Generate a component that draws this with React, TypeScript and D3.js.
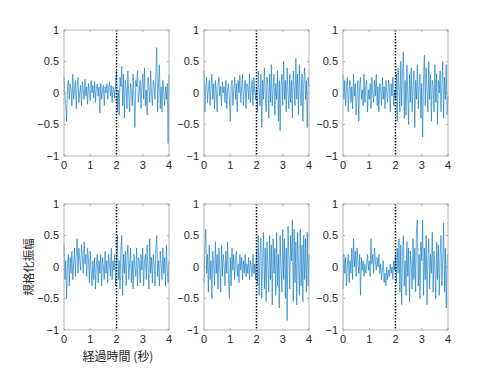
import React from 'react';
import * as d3 from 'd3';

// normalized amplitude, 121 samples over 0..4 s (sample 60 = 2 s)
const panel1 = [
  0.25, -0.05, -0.2, -0.45, 0.1, 0.2, -0.1, 0.15, 0.05, -0.2,
  0.3, -0.1, 0.05, 0.2, -0.25, 0.1, 0.25, -0.15, 0.0, 0.12,
  -0.2, 0.18, 0.05, -0.1, 0.22, -0.05, 0.1, -0.18, 0.15, 0.02,
  -0.12, 0.2, 0.0, 0.12, -0.08, 0.18, -0.15, 0.08, 0.14, -0.05,
  0.1, -0.32, 0.15, -0.1, 0.05, 0.12, -0.2, 0.1, 0.0, 0.15,
  -0.1, 0.08, 0.18, -0.05, 0.12, -0.15, 0.1, 0.05, -0.08, 0.15,
  0.35,
  -0.3, 0.05, -0.35, 0.25, 0.1, 0.42, -0.2, 0.3, -0.4, 0.2,
  0.1, -0.25, 0.35, -0.05, -0.3, 0.15, 0.05, -0.2, 0.3, -0.1,
  -0.55, 0.2, 0.1, 0.35, -0.15, 0.0, 0.2, -0.25, 0.1, 0.3,
  -0.1, 0.4, -0.2, 0.05, -0.35, 0.25, 0.1, -0.15, 0.35, 0.0,
  -0.2, 0.2, 0.1, -0.1, 0.3, 0.72, -0.3, 0.15, 0.45, -0.25,
  0.1, -0.3, 0.2, 0.0, -0.2, 0.1, -0.1, 0.15, -0.8, 0.3,
];

const panel2 = [
  0.35, -0.3, 0.1, 0.25, -0.15, 0.05, 0.2, -0.2, 0.1, 0.3,
  -0.1, 0.15, -0.25, 0.2, 0.05, -0.3, 0.12, 0.25, -0.05, 0.1,
  -0.2, 0.18, 0.0, 0.1, -0.15, 0.2, -0.25, 0.05, 0.15, -0.1,
  -0.45, 0.1, 0.2, -0.2, 0.05, 0.25, -0.1, 0.15, -0.3, 0.2,
  0.0, 0.28, -0.15, 0.1, 0.3, -0.2, 0.05, 0.2, -0.25, 0.15,
  0.1, -0.1, 0.3, -0.15, 0.05, 0.2, -0.2, 0.25, 0.0, -0.1,
  0.1,
  -0.3, 0.35, 0.05, -0.2, 0.3, -0.55, 0.2, -0.1, 0.4, 0.0,
  -0.3, 0.25, 0.1, -0.4, 0.3, -0.15, 0.45, -0.2, 0.05, 0.3,
  -0.35, 0.15, -0.1, 0.35, -0.45, 0.2, -0.6, 0.1, 0.3, -0.2,
  0.5, -0.1, 0.2, -0.3, 0.4, 0.0, -0.25, 0.3, -0.15, 0.2,
  -0.4, 0.35, 0.1, -0.2, 0.55, -0.1, 0.3, -0.35, 0.45, 0.0,
  -0.2, 0.3, -0.45, 0.15, 0.4, -0.1, 0.2, -0.55, 0.25, 0.1,
];

const panel3 = [
  0.3, -0.1, 0.2, -0.2, 0.1, 0.25, -0.3, 0.05, 0.2, -0.15,
  0.1, -0.25, 0.3, -0.05, 0.15, -0.35, 0.0, 0.2, -0.45, 0.1,
  0.25, -0.1, 0.05, -0.2, 0.3, -0.15, 0.1, 0.2, -0.3, 0.05,
  -0.1, 0.15, -0.25, 0.25, 0.0, -0.15, 0.2, -0.05, 0.3, -0.2,
  0.1, -0.3, 0.15, 0.05, -0.2, 0.25, -0.1, 0.1, -0.25, 0.2,
  0.0, -0.15, 0.2, 0.1, -0.3, 0.15, -0.05, 0.25, -0.2, 0.05,
  -0.1,
  0.3, -0.45, 0.4, 0.1, -0.3, 0.5, -0.2, 0.35, 0.65, -0.4,
  0.2, -0.35, 0.45, 0.0, -0.5, 0.3, -0.15, 0.4, -0.3, 0.1,
  0.35, -0.55, 0.2, -0.1, 0.45, -0.25, 0.1, 0.3, -0.4, 0.15,
  -0.7, 0.25, 0.6, -0.2, 0.4, 0.05, -0.3, 0.5, -0.1, 0.3,
  -0.45, 0.2, 0.1, -0.3, 0.45, -0.15, 0.3, -0.5, 0.2, 0.0,
  0.35, -0.3, 0.15, 0.5, -0.4, 0.25, -0.1, 0.45, -0.35, -0.05,
];

const panel4 = [
  0.35, -0.2, 0.1, -0.5, 0.05, 0.2, -0.3, 0.15, -0.1, 0.25,
  -0.2, 0.05, 0.3, -0.15, 0.2, 0.45, -0.1, 0.3, 0.1, -0.05,
  0.35, 0.15, -0.1, 0.4, 0.05, 0.2, -0.15, 0.3, 0.1, -0.25,
  0.25, -0.05, -0.3, 0.1, -0.2, 0.15, -0.35, 0.05, 0.2, -0.25,
  0.1, -0.1, 0.2, -0.3, 0.15, 0.0, -0.2, 0.25, -0.1, 0.1,
  -0.25, 0.2, 0.05, -0.15, 0.3, -0.2, 0.1, -0.05, 0.2, -0.3,
  0.15,
  0.5, -0.2, 0.1, -0.35, 0.3, 0.5, -0.45, 0.2, -0.1, 0.25,
  -0.3, 0.15, 0.35, -0.2, 0.05, 0.3, -0.25, 0.1, -0.35, 0.2,
  0.0, -0.15, 0.3, -0.3, 0.15, 0.1, -0.25, 0.2, -0.05, 0.3,
  -0.3, 0.1, 0.2, -0.2, 0.35, 0.0, -0.35, 0.45, -0.1, 0.15,
  -0.25, 0.2, 0.05, -0.3, 0.3, 0.5, -0.15, 0.1, -0.3, 0.25,
  0.05, -0.2, 0.3, -0.1, 0.15, -0.3, 0.35, -0.05, -0.25, 0.1,
];

const panel5 = [
  -0.25, 0.3, 0.6, -0.1, 0.2, -0.4, 0.35, -0.2, 0.1, -0.5,
  0.25, 0.05, -0.3, 0.4, -0.1, 0.2, -0.35, 0.3, 0.0, -0.4,
  0.35, -0.15, 0.2, 0.05, -0.3, 0.25, -0.1, 0.4, -0.2, -0.5,
  0.15, -0.3, 0.3, -0.05, 0.2, -0.2, 0.1, 0.25, -0.15, 0.05,
  -0.25, 0.2, -0.05, 0.15, -0.2, 0.1, -0.1, 0.2, -0.15, 0.05,
  -0.1, 0.15, -0.2, 0.1, 0.0, -0.15, 0.2, -0.1, 0.05, -0.2,
  0.25,
  -0.3, 0.5, -0.45, 0.2, 0.45, -0.5, 0.1, 0.55, -0.35, 0.3,
  -0.55, 0.4, 0.0, -0.4, 0.5, -0.2, 0.35, -0.6, 0.45, -0.1,
  0.3, -0.45, 0.55, -0.3, 0.2, -0.65, 0.5, 0.0, -0.4, 0.6,
  -0.2, 0.45, -0.5, 0.3, -0.85, 0.65, 0.2, -0.35, 0.5, 0.1,
  0.75, -0.55, 0.6, -0.25, 0.4, -0.6, 0.55, 0.05, -0.45, 0.6,
  -0.3, 0.35, -0.55, 0.5, -0.2, 0.45, -0.4, 0.55, -0.3, 0.2,
];

const panel6 = [
  -0.35, 0.2, -0.1, 0.15, -0.3, 0.05, 0.2, -0.25, 0.1, -0.1,
  0.3, -0.2, 0.45, 0.0, 0.25, -0.15, 0.3, 0.1, -0.1, 0.2,
  -0.45, 0.15, -0.05, 0.1, -0.15, 0.05, -0.1, 0.0, 0.2, -0.05,
  0.1, -0.15, 0.45, 0.05, 0.2, -0.1, 0.3, 0.1, -0.05, 0.15,
  0.0, 0.2, -0.1, 0.05, -0.2, -0.05, 0.1, -0.25, -0.1, -0.3,
  0.0, -0.2, -0.05, -0.15, 0.05, -0.1, 0.0, -0.2, 0.1, -0.05,
  0.2,
  -0.25, 0.3, -0.1, 0.45, -0.4, 0.35, -0.6, 0.2, 0.5, -0.3,
  0.1, -0.45, 0.4, -0.15, 0.3, -0.55, 0.25, 0.05, -0.35, 0.45,
  -0.2, 0.3, -0.4, 0.6, 0.75, -0.3, 0.2, -0.5, 0.4, 0.1,
  0.75, -0.45, 0.3, -0.2, 0.5, -0.6, 0.15, 0.45, -0.35, 0.2,
  -0.1, 0.55, -0.4, 0.25, 0.0, -0.5, 0.4, -0.2, 0.35, -0.45,
  0.2, 0.5, -0.3, 0.1, 0.7, -0.4, 0.3, -0.65, 0.15, 0.2,
];

const panels = [panel1, panel2, panel3, panel4, panel5, panel6];
const xTicks = [0, 1, 2, 3, 4];
const yTicks = [-1, -0.5, 0, 0.5, 1];
const marker = 2; // seconds
const duration = 4;
const yLabel = '規格化振幅';
const xLabel = '経過時間 (秒)';

const W = 496;
const H = 372;
const colLeft = [64, 204, 343];
const rowTop = [30, 204];
const pw = 105;
const ph = 126;
const numFont = '"Liberation Sans", Arial, sans-serif';
const cjkFont = '"Noto Sans CJK JP", sans-serif';

const Panel: React.FC<{ values: number[]; left: number; top: number }> = ({ values, left, top }) => {
  const x = d3.scaleLinear().domain([0, duration]).range([0, pw]);
  const y = d3.scaleLinear().domain([-1, 1]).range([ph, 0]);
  const n = values.length;
  const line = d3.line<number>()
    .x((_, i) => x((i * duration) / (n - 1)))
    .y(d => y(d));
  const fmt = (v: number) => d3.format('')(v).replace('-', '\u2212');

  return (
    <g transform={`translate(${left},${top})`}>
      <path d={line(values) || ''} fill="none" stroke="#0072BD" strokeWidth={0.6} strokeLinejoin="round" />
      <line x1={x(marker)} x2={x(marker)} y1={0} y2={ph} stroke="#000" strokeWidth={1.5} strokeDasharray="1.5,1.5" />
      <rect x={0} y={0} width={pw} height={ph} fill="none" stroke="#a0a0a0" strokeWidth={0.8} />
      {xTicks.map(t => (
        <g key={`x${t}`}>
          <line x1={x(t)} x2={x(t)} y1={ph} y2={ph - 2} stroke="#a0a0a0" strokeWidth={0.8} />
          <line x1={x(t)} x2={x(t)} y1={0} y2={2} stroke="#a0a0a0" strokeWidth={0.8} />
          <text x={x(t)} y={ph + 13} textAnchor="middle" fontSize={11} fontFamily={numFont} fill="#262626">{fmt(t)}</text>
        </g>
      ))}
      {yTicks.map(t => (
        <g key={`y${t}`}>
          <line x1={0} x2={2} y1={y(t)} y2={y(t)} stroke="#a0a0a0" strokeWidth={0.8} />
          <line x1={pw} x2={pw - 2} y1={y(t)} y2={y(t)} stroke="#a0a0a0" strokeWidth={0.8} />
          <text x={-5} y={y(t)} dy="0.35em" textAnchor="end" fontSize={11} fontFamily={numFont} fill="#262626">{fmt(t)}</text>
        </g>
      ))}
    </g>
  );
};

export default function App() {
  return (
    <svg width={W} height={H} style={{ position: 'absolute', left: 0, top: 0, background: '#fff' }}>
      {panels.map((vals, i) => (
        <Panel key={i} values={vals} left={colLeft[i % 3]} top={rowTop[Math.floor(i / 3)]} />
      ))}
      <text
        transform={`translate(33,${rowTop[1] + ph / 2}) rotate(-90)`}
        textAnchor="middle"
        fontSize={11.5}
        fontFamily={cjkFont}
        fill="#262626"
      >{yLabel}</text>
      <text x={118} y={361} textAnchor="middle" fontSize={12} fontFamily={cjkFont} fill="#262626">{xLabel}</text>
    </svg>
  );
}
